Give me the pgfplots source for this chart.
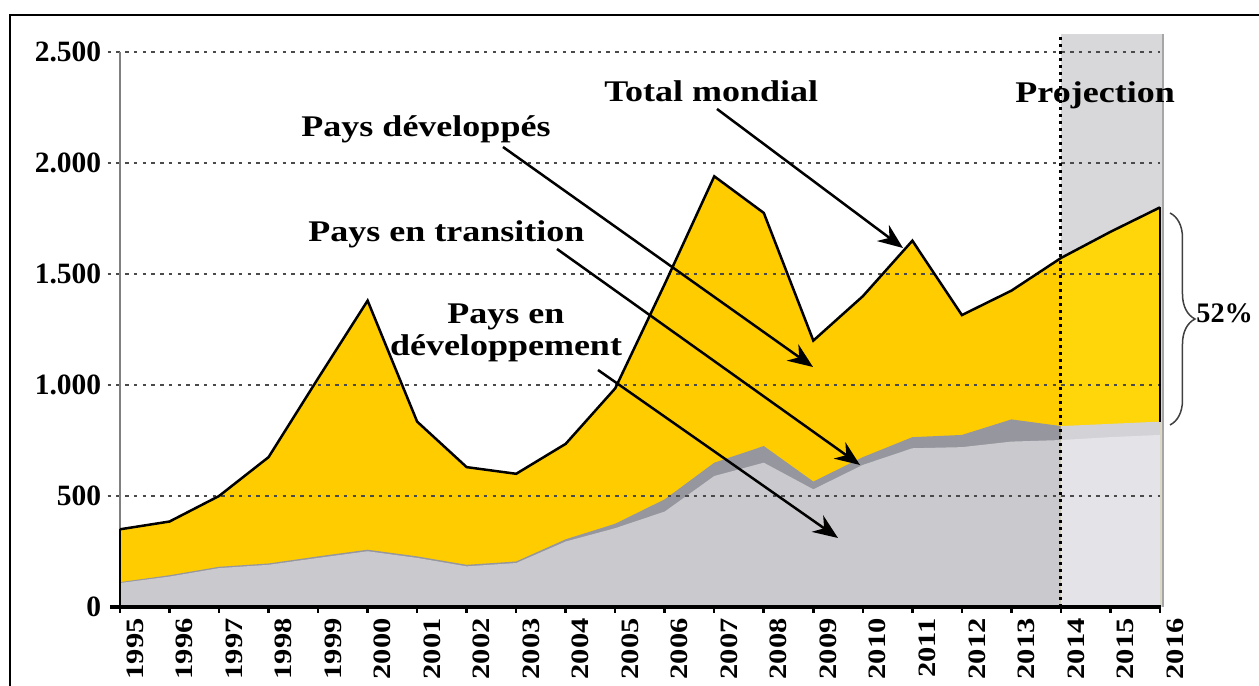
\documentclass[border=0pt]{standalone}
\usepackage{pgfplots}
\pgfplotsset{compat=1.18}
\usepackage{pgfplotstable}
\usepackage{fontspec}
\setmainfont{Liberation Serif}
\usetikzlibrary{arrows.meta,decorations.pathreplacing}
\definecolor{yel}{HTML}{FFCC00}
\definecolor{yelp}{HTML}{FFD60A}
\definecolor{devc}{HTML}{C9C9CE}
\definecolor{devp}{HTML}{E4E4E8}
\definecolor{trc}{HTML}{96969E}
\definecolor{trp}{HTML}{D2D2D7}
\definecolor{projbg}{HTML}{D8D8DA}
\definecolor{gridc}{HTML}{4A4A4A}

\pgfplotstableread{
year total trans dev
1995 350 112 108
1996 385 143 137
1997 500 181 175
1998 675 196 190
1999 1030 228 221
2000 1380 258 251
2001 835 228 221
2002 630 190 183
2003 600 205 198
2004 735 305 295
2005 985 375 355
2006 1455 485 430
2007 1940 650 590
2008 1775 725 650
2009 1200 565 530
2010 1400 675 640
2011 1650 765 715
2012 1315 775 720
2013 1425 845 745
2014 1572 815 752
2015 1690 825 765
2016 1800 835 775
}\data

\begin{document}
\begin{tikzpicture}
\useasboundingbox (0,0) rectangle (503.6pt,-274.4pt);
\clip (0,0) rectangle (503.6pt,-274.4pt);
\fill[white] (0,0) rectangle (503.6pt,-274.4pt);
\begin{axis}[
  at={(48pt,-242.8pt)}, anchor=south west,
  scale only axis, width=416pt, height=229.1pt,
  xmin=1995, xmax=2016, ymin=0, ymax=2580,
  clip=false,
  axis line style={draw=none},
  /pgf/number format/assume math mode=true,
  xtick={1995,...,2016}, xtick pos=bottom, xtick align=outside,
  major tick length=2.4pt, xtick style={black, line width=1pt},
  xticklabel={\scalebox{1}[0.82]{\pgfmathprintnumber[1000 sep={},fixed,precision=0]{\tick}}},
  xticklabel style={rotate=90, anchor=east, font=\fontsize{12.2}{13}\selectfont\bfseries, inner sep=1pt, yshift=-6pt, xshift=-1pt},
  ytick={0,500,1000,1500,2000,2500},
  yticklabels={0,500,1.000,1.500,2.000,2.500},
  ytick pos=left, ytick style={draw=none},
  yticklabel style={font=\fontsize{11.8}{12}\selectfont\bfseries, anchor=east, xshift=-4pt},
]
% projection background
\fill[projbg] (axis cs:2014,0) rectangle (axis cs:2016.06,2580);
% historical areas
\addplot[fill=yel, draw=none, restrict x to domain=1995:2014] table[x=year,y=total]{\data} \closedcycle;
\addplot[fill=trc, draw=none, restrict x to domain=1995:2014] table[x=year,y=trans]{\data} \closedcycle;
\addplot[fill=devc, draw=none, restrict x to domain=1995:2014] table[x=year,y=dev]{\data} \closedcycle;
% projection areas
\addplot[fill=yelp, draw=none, restrict x to domain=2014:2016] table[x=year,y=total]{\data} \closedcycle;
\addplot[fill=trp, draw=none, restrict x to domain=2014:2016] table[x=year,y=trans]{\data} \closedcycle;
\addplot[fill=devp, draw=none, restrict x to domain=2014:2016] table[x=year,y=dev]{\data} \closedcycle;
\draw[gray!70, line width=0.5pt] (axis cs:2016.06,0) -- (axis cs:2016.06,2580);
% grid
\pgfplotsinvokeforeach{500,1000,1500,2000,2500}{
  \draw[gridc, line width=1.1pt, dash pattern=on 1.4pt off 2.1pt] (axis cs:1994.75,#1) -- (axis cs:2016,#1);
}
% projection divider
\draw[black, line width=1.2pt, dash pattern=on 1.2pt off 1.6pt] (axis cs:2014,0) -- (axis cs:2014,2580);
% y axis line
\draw[gray, line width=1pt] (axis cs:1995,0) -- (axis cs:1995,2500);
% total line
\addplot[black, line width=1pt, mark=none] coordinates {(1995,0) (1995,350)};
\addplot[black, line width=1pt, mark=none] table[x=year,y=total]{\data};
\addplot[black, line width=0.6pt, mark=none] coordinates {(2016,835) (2016,1800)};
% x axis line
\draw[black, line width=1.3pt] (axis cs:1994.8,0) -- (axis cs:2016.03,0);
\end{axis}

\begin{scope}[x=0.4pt,y=-0.4pt]
\draw[line width=0.8pt] (10,700) -- (10,15) -- (1270,15);
\node[anchor=base west, inner sep=0] at (604,102) {\fontsize{12}{14}\selectfont\bfseries\scalebox{1.2}[1]{Total mondial}};
\node[anchor=base west, inner sep=0] at (1015,103) {\fontsize{12}{14}\selectfont\bfseries\scalebox{1.2}[1]{Projection}};
\node[anchor=base west, inner sep=0] at (301,137) {\fontsize{12}{14}\selectfont\bfseries\scalebox{1.2}[1]{Pays développés}};
\node[anchor=base west, inner sep=0] at (308,242) {\fontsize{12}{14}\selectfont\bfseries\scalebox{1.2}[1]{Pays en transition}};
\node[anchor=base, inner sep=0] at (506,324) {\fontsize{12}{14}\selectfont\bfseries\scalebox{1.2}[1]{Pays en}};
\node[anchor=base, inner sep=0] at (506,356) {\fontsize{12}{14}\selectfont\bfseries\scalebox{1.2}[1]{développement}};
\draw[line width=1pt, -{Stealth[length=10pt,width=8pt]}] (717,109) -- (903,248);
\draw[line width=1pt, -{Stealth[length=10pt,width=8pt]}] (503,147) -- (813,367);
\draw[line width=1pt, -{Stealth[length=10pt,width=8pt]}] (557,249) -- (860,465);
\draw[line width=1pt, -{Stealth[length=10pt,width=8pt]}] (598,370) -- (838,538);
\draw[decorate, decoration={brace, amplitude=10pt}, line width=0.6pt, black!75] (1170,213) -- (1170,425);
\node[anchor=base west, inner sep=0] at (1196,323) {\fontsize{11.3}{13}\selectfont\bfseries 52\%};
\end{scope}
\end{tikzpicture}
\end{document}
